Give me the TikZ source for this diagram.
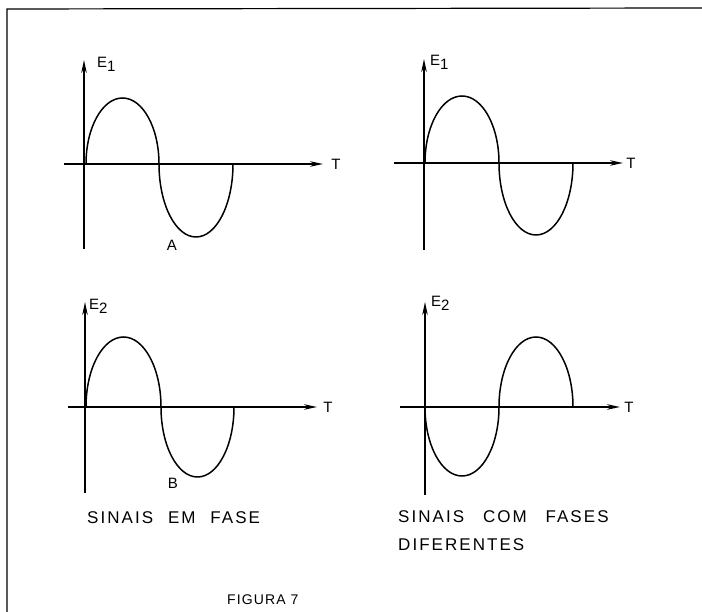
\documentclass[tikz,border=0pt]{standalone}
\usepackage{fontspec}
\setmainfont{Liberation Sans}
\newfontfamily\capfont[LetterSpace=12,WordSpace=2.2]{Liberation Sans}
\newfontfamily\figfont[LetterSpace=8]{Liberation Sans}
\usetikzlibrary{arrows.meta}
\newcommand{\low}[1]{\raisebox{-4pt}{#1}}
\newcommand{\gap}{\hspace*{4pt}}

\begin{document}
\begin{tikzpicture}[x=1pt,y=1pt,
  axis/.style={line width=1.8pt,-{Stealth[length=13pt,width=5.5pt]}},
  wave/.style={line width=1.5pt},
  lbl/.style={font=\fontsize{15}{17}\selectfont,inner sep=0pt},
  captxt/.style={font=\capfont\fontsize{17}{20}\selectfont,inner sep=0pt,anchor=west}]
\useasboundingbox (0,0) rectangle (702,612);
\draw[line width=1.2pt] (7,0) -- (7,603) -- (702,604);

% E1, signal A
\begin{scope}[shift={(84,448)}]
\draw[axis] (0,-85) -- (0,104);
\draw[axis] (-20,0) -- (239,0);
\draw[wave] (2,0) arc[start angle=180,end angle=0,x radius=36.5pt,y radius=66pt]
  arc[start angle=180,end angle=360,x radius=37pt,y radius=73pt];
\node[lbl,anchor=west] (e1a) at (13,100) {E\low{1}};
\node[lbl] (ta) at (252,0) {T};
\node[lbl] (lblA) at (88,-81) {A};
\end{scope}

% E1, right
\begin{scope}[shift={(424,449)}]
\draw[axis] (0,-87) -- (0,104);
\draw[axis] (-30,0) -- (199,0);
\draw[wave] (1,0) arc[start angle=180,end angle=0,x radius=37pt,y radius=67pt]
  arc[start angle=180,end angle=360,x radius=37pt,y radius=72pt];
\node[lbl,anchor=west] (e1b) at (6,101) {E\low{1}};
\node[lbl] (tb) at (207,0) {T};
\end{scope}

% E2, signal B
\begin{scope}[shift={(85,205)}]
\draw[axis] (0,-86) -- (0,105);
\draw[axis] (-17,0) -- (232,0);
\draw[wave] (1,0) arc[start angle=180,end angle=0,x radius=37.5pt,y radius=70pt]
  arc[start angle=180,end angle=360,x radius=36.5pt,y radius=70pt];
\node[lbl,anchor=west] (e2a) at (4,101) {E\low{2}};
\node[lbl] (tc) at (243,0) {T};
\node[lbl] (lblB) at (88,-76) {B};
\end{scope}

% E2, out of phase
\begin{scope}[shift={(425,205)}]
\draw[axis] (0,-88) -- (0,105);
\draw[axis] (-25,0) -- (195,0);
\draw[wave] (0,0) arc[start angle=180,end angle=360,x radius=37pt,y radius=69pt]
  arc[start angle=180,end angle=0,x radius=37pt,y radius=70pt];
\node[lbl,anchor=west] (e2b) at (6,104) {E\low{2}};
\node[lbl] (td) at (204,0) {T};
\end{scope}

\node[captxt] (capL) at (87,94) {SINAIS EM FASE};
\node[captxt] (capR) at (398,95) {SINAIS\gap{} COM\gap{} FASES};
\node[captxt] (capR2) at (398,67) {DIFERENTES};
\node[font=\figfont\fontsize{14}{16}\selectfont,inner sep=0pt,anchor=west] (fig) at (227,12) {FIGURA 7};
\end{tikzpicture}
\end{document}
